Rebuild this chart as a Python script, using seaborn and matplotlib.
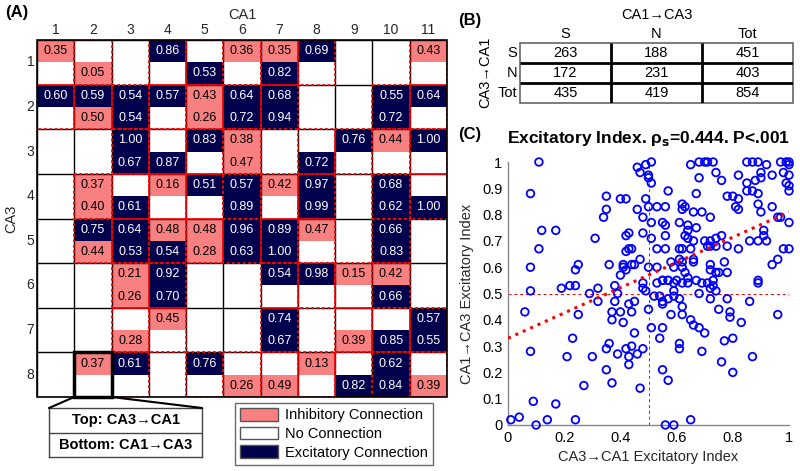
import numpy as np
import matplotlib
matplotlib.use("Agg")
import matplotlib.pyplot as plt
import seaborn as sns
from matplotlib.colors import ListedColormap
from matplotlib.patches import Rectangle, Patch, ConnectionPatch

# ---- (A) connection matrix: 8 CA3 cells (rows) x 11 CA1 cells (columns)
# value > 0 excitatory, value < 0 inhibitory, 0 = no connection
top_ca3_ca1 = [
    [-0.35, 0, 0, 0.86, 0, -0.36, -0.35, 0.69, 0, 0, -0.43],
    [0.60, 0.59, 0.54, 0.57, -0.43, 0.64, 0.68, 0, 0, 0.55, 0.64],
    [0, 0, 1.00, 0, 0.83, -0.38, 0, 0, 0.76, -0.44, 1.00],
    [0, -0.37, 0, -0.16, 0.51, 0.57, -0.42, 0.97, 0, 0.68, 0],
    [0, 0.75, 0.64, -0.48, -0.48, 0.96, 0.89, -0.47, 0, 0.66, 0],
    [0, 0, -0.21, 0.92, 0, 0, 0.54, 0.98, -0.15, -0.42, 0],
    [0, 0, 0, -0.45, 0, 0, 0.74, 0, 0, 0, 0.57],
    [0, -0.37, 0.61, 0, 0.76, 0, 0, -0.13, 0, 0.62, 0],
]
bottom_ca1_ca3 = [
    [0, -0.05, 0, 0, 0.53, 0, 0.82, 0, 0, 0, 0],
    [0, -0.50, 0.54, 0, -0.26, 0.72, 0.94, 0, 0, 0.72, 0],
    [0, 0, 0.67, 0.87, 0, -0.47, 0, 0.72, 0, 0, 0],
    [0, -0.40, 0.61, 0, 0, 0.89, 0, 0.99, 0, 0.62, 1.00],
    [0, -0.44, 0.53, 0.54, -0.28, 0.63, 1.00, 0, 0, 0.83, 0],
    [0, 0, -0.26, 0.70, 0, 0, 0, 0, 0, 0.66, 0],
    [0, 0, -0.28, 0, 0, 0, 0.67, 0, -0.39, 0.85, 0.55],
    [0, 0, 0, 0, 0, -0.26, -0.49, 0, 0.82, 0.84, -0.39],
]
ca1_labels = [str(i) for i in range(1, 12)]
ca3_labels = [str(i) for i in range(1, 9)]
legend_labels = ["Inhibitory Connection", "No Connection", "Excitatory Connection"]

# ---- (B) contingency table
table_cols = ["S", "N", "Tot"]
table_rows = ["S", "N", "Tot"]
table_counts = [[263, 188, 451],
                [172, 231, 403],
                [435, 419, 854]]

# ---- (C) excitatory index per pair
ei_ca3_ca1 = [
    0.11, 0.08, 0.12, 0.17, 0.11, 0.08, 0.35, 0.35, 0.34, 0.31, 0.40, 0.42, 0.36, 0.25, 0.24,
    0.46, 0.47, 0.49, 0.51, 0.50, 0.50, 0.51, 0.49, 0.46, 0.50, 0.53, 0.56, 0.57, 0.48, 0.51, 0.48, 0.51,
    0.42, 0.43, 0.43, 0.44, 0.42, 0.47, 0.44, 0.45, 0.41, 0.41, 0.42, 0.40, 0.50, 0.53,
    0.55, 0.56, 0.56, 0.56, 0.53, 0.58, 0.59, 0.55, 0.57,
    0.65, 0.68, 0.70, 0.71, 0.73, 0.74, 0.68, 0.76, 0.67,
    0.62, 0.62, 0.63, 0.66, 0.69, 0.72, 0.61, 0.64, 0.64, 0.67, 0.63, 0.64, 0.66, 0.62, 0.61, 0.65,
    0.70, 0.72, 0.74, 0.76, 0.71, 0.72, 0.74, 0.66, 0.66, 0.61, 0.62, 0.62, 0.63, 0.64,
    0.72, 0.72, 0.74, 0.75, 0.77, 0.78, 0.82, 0.78,
    0.78, 0.80, 0.82, 0.81, 0.82, 0.82, 0.85, 0.87, 0.89, 0.92, 0.90, 0.90, 0.88, 0.85, 0.85, 0.87,
    0.89, 0.89, 0.90, 0.94, 0.94,
    0.97, 0.99, 1.00, 1.00, 0.98, 1.00, 0.99, 1.00, 1.00, 0.97, 0.96, 1.00, 1.00, 0.98,
    0.91, 0.91, 0.92, 0.89, 0.86, 0.94, 0.96, 0.89,
    0.08, 0.06, 0.08, 0.09, 0.17, 0.01, 0.04, 0.10, 0.14, 0.24,
    0.19, 0.22, 0.24, 0.25, 0.23, 0.21, 0.27, 0.30, 0.29, 0.32, 0.32,
    0.38, 0.39, 0.38, 0.37, 0.37, 0.40, 0.41, 0.36, 0.35, 0.39, 0.42, 0.43, 0.44, 0.43, 0.46, 0.48,
    0.35, 0.37, 0.47,
    0.43, 0.45, 0.44, 0.45, 0.48, 0.48, 0.50, 0.52, 0.51, 0.54, 0.55, 0.55, 0.54, 0.55, 0.55, 0.57,
    0.57, 0.58, 0.59, 0.59, 0.59, 0.61, 0.62, 0.62, 0.61, 0.61, 0.65, 0.66, 0.68, 0.70, 0.69,
    0.68, 0.72, 0.72, 0.74, 0.75, 0.78, 0.79, 0.79, 0.77, 0.80, 0.76, 0.80, 0.83, 0.86, 0.89, 0.87,
    0.96, 0.65, 0.56, 0.59,
    0.53, 0.55, 0.57, 0.62, 0.64, 0.67, 0.69, 0.71, 0.73, 0.73, 0.49, 0.60,
]
ei_ca1_ca3 = [
    1.00, 0.88, 0.74, 0.74, 0.67, 0.60, 0.87, 0.82, 0.79, 0.71, 0.86, 0.86, 0.61, 0.61, 0.59,
    0.98, 0.96, 0.99, 1.00, 0.95, 0.94, 0.92, 0.86, 0.82, 0.83, 0.83, 0.83, 0.89, 0.79, 0.77, 0.73, 0.71,
    0.72, 0.73, 0.67, 0.67, 0.66, 0.63, 0.61, 0.61, 0.61, 0.60, 0.59, 0.57, 0.60, 0.60,
    0.77, 0.76, 0.72, 0.67, 0.67, 0.62, 0.60, 0.55, 0.55,
    0.99, 1.00, 1.00, 1.00, 1.00, 0.96, 0.94, 0.93, 0.88,
    0.82, 0.84, 0.83, 0.81, 0.81, 0.79, 0.77, 0.76, 0.74, 0.75, 0.72, 0.71, 0.70, 0.67, 0.67, 0.67,
    0.70, 0.70, 0.71, 0.72, 0.68, 0.68, 0.68, 0.63, 0.62, 0.63, 0.62, 0.60, 0.58, 0.56,
    0.61, 0.59, 0.58, 0.58, 0.62, 0.68, 0.67, 0.58,
    0.87, 0.87, 0.86, 0.83, 0.82, 0.95, 1.00, 1.00, 1.00, 0.99, 0.96, 0.94, 0.93, 0.92, 0.89, 0.89,
    0.88, 0.84, 0.81, 0.83, 0.95,
    1.00, 1.00, 1.00, 0.99, 0.96, 0.95, 0.92, 0.91, 0.89, 0.79, 0.79, 0.77, 0.67, 0.67,
    0.74, 0.72, 0.70, 0.70, 0.70, 0.61, 0.63, 0.55,
    0.51, 0.43, 0.28, 0.09, 0.08, 0.02, 0.03, 0.00, 0.02, 0.02,
    0.52, 0.53, 0.53, 0.42, 0.33, 0.26, 0.15, 0.26, 0.50, 0.52, 0.47,
    0.53, 0.50, 0.47, 0.43, 0.40, 0.43, 0.39, 0.31, 0.29, 0.27, 0.29, 0.26, 0.30, 0.23, 0.27, 0.29,
    0.21, 0.16, 0.14,
    0.46, 0.47, 0.43, 0.35, 0.52, 0.54, 0.44, 0.49, 0.37, 0.49, 0.47, 0.46, 0.33, 0.37, 0.21, 0.17,
    0.48, 0.42, 0.51, 0.49, 0.54, 0.48, 0.45, 0.42, 0.31, 0.29, 0.40, 0.38, 0.37, 0.35, 0.28,
    0.50, 0.48, 0.52, 0.51, 0.44, 0.48, 0.43, 0.41, 0.32, 0.33, 0.24, 0.20, 0.39, 0.47, 0.54, 0.26,
    0.42, 0.02, 0.00, 0.00,
    0.54, 0.55, 0.55, 0.54, 0.54, 0.55, 0.54, 0.54, 0.55, 0.53, 0.51, 0.55,
]
fit_intercept, fit_slope = 0.33, 0.48
title_c = "Excitatory Index. \u03c1$_{\\mathbf{s}}$=0.444. P<.001"

salmon = "#f98080"
navy = "#00004d"

sns.set_theme(style="white")
plt.rcParams["font.family"] = ["Liberation Sans", "DejaVu Sans"]
plt.rcParams["text.color"] = "black"

fig = plt.figure(figsize=(8, 4.71), dpi=100)
W, H = 800, 471


def fbox(x0, y0, x1, y1):
    return [x0 / W, 1 - y1 / H, (x1 - x0) / W, (y1 - y0) / H]


# ------------------------------------------------------------------ (A)
axA = fig.add_axes(fbox(37, 40, 447, 397))
vals = np.zeros((16, 11))
vals[0::2] = top_ca3_ca1
vals[1::2] = bottom_ca1_ca3
codes = np.sign(vals)
labels = np.where(vals != 0, np.char.mod("%.2f", np.abs(vals)), "")

sns.heatmap(codes, ax=axA, cmap=ListedColormap([salmon, "white", navy]),
            vmin=-1.5, vmax=1.5, cbar=False, annot=labels, fmt="",
            annot_kws={"fontsize": 9})
for t, c in zip(axA.texts, codes.flat):
    t.set_color("white" if c > 0 else "black")

axA.hlines(np.arange(0, 17, 2), 0, 11, color="black", lw=1)
axA.vlines(np.arange(0, 12), 0, 16, color="black", lw=1)
for r in range(8):
    for c in range(11):
        if top_ca3_ca1[r][c] or bottom_ca1_ca3[r][c]:
            axA.add_patch(Rectangle((c, 2 * r), 1, 2, fill=False, ec="red",
                                    lw=1.3, ls=(0, (1.5, 1.5)), zorder=3))
axA.add_patch(Rectangle((1, 14), 1, 2, fill=False, ec="black", lw=2.5,
                        zorder=4, clip_on=False))
axA.add_patch(Rectangle((0, 0), 11, 16, fill=False, ec="black", lw=1.2,
                        zorder=4, clip_on=False))

axA.xaxis.tick_top()
axA.xaxis.set_label_position("top")
axA.set_xticks(np.arange(11) + 0.5, ca1_labels, rotation=0)
axA.set_yticks(np.arange(8) * 2 + 1, ca3_labels, rotation=0)
axA.tick_params(length=0, labelsize=10, pad=2)
axA.set_xlabel("CA1", fontsize=10.5, labelpad=3)
axA.set_ylabel("CA3", fontsize=10.5, labelpad=6)

# explanation box under the heatmap
axBox = fig.add_axes(fbox(49, 408, 202, 457))
axBox.set_xticks([])
axBox.set_yticks([])
for s in axBox.spines.values():
    s.set_color("#444444")
    s.set_linewidth(1)
axBox.axhline(0.5, color="#444444", lw=1)
axBox.text(0.5, 0.75, "Top: CA3\u2192CA1", ha="center", va="center",
           fontsize=10.5, fontweight="bold", transform=axBox.transAxes)
axBox.text(0.5, 0.25, "Bottom: CA1\u2192CA3", ha="center", va="center",
           fontsize=10.5, fontweight="bold", transform=axBox.transAxes)
for xa, xb in [(1, 0), (2, 1)]:
    con = ConnectionPatch(xyA=(xa, 16), coordsA=axA.transData,
                          xyB=(xb, 1), coordsB=axBox.transAxes,
                          color="black", lw=1.5)
    fig.add_artist(con)

handles = [Patch(fc=col, ec="#555555", label=lab)
           for col, lab in zip([salmon, "white", navy], legend_labels)]
leg = fig.legend(handles=handles, loc="upper left",
                 bbox_to_anchor=(235 / W, 1 - 403 / H), fontsize=10.5,
                 frameon=True, fancybox=False, edgecolor="#444444",
                 handlelength=2.6, handleheight=0.95, labelspacing=0.3,
                 borderpad=0.35, handletextpad=0.45, borderaxespad=0)
leg.get_frame().set_linewidth(1)

# ------------------------------------------------------------------ (B)
axB = fig.add_axes(fbox(520, 43, 793, 103))
axB.set_xlim(0, 3)
axB.set_ylim(3, 0)
axB.axis("off")
axB.hlines([1, 2], 0, 3, color="black", lw=2)
axB.vlines([1, 2], 0, 3, color="black", lw=2)
axB.add_patch(Rectangle((0, 0), 3, 3, fill=False, ec="#666666", lw=1.2,
                        clip_on=False))
for i, row in enumerate(table_counts):
    for j, v in enumerate(row):
        axB.text(j + 0.5, i + 0.52, str(v), ha="center", va="center", fontsize=10.5)
for j, lab in enumerate(table_cols):
    axB.text(j + 0.5, -0.08, lab, ha="center", va="bottom", fontsize=10.5)
for i, lab in enumerate(table_rows):
    axB.text(-0.03, i + 0.52, lab, ha="right", va="center", fontsize=10.5)
axB.text(1.5, -1.4, "CA1\u2192CA3", ha="center", va="center", fontsize=10.5)
axB.text(-0.38, 1.45, "CA3\u2192CA1", ha="center", va="center",
         rotation=90, fontsize=10.5)

# ------------------------------------------------------------------ (C)
axC = fig.add_axes(fbox(508, 162, 789, 425))
axC.axvline(0.5, color="red", lw=0.7, ls=(0, (3, 3)), zorder=1)
axC.axhline(0.5, color="red", lw=0.7, ls=(0, (3, 3)), zorder=1)
sns.scatterplot(x=ei_ca3_ca1, y=ei_ca1_ca3, ax=axC, color="blue",
                facecolor="none", edgecolor="blue", linewidth=1.3, s=30,
                clip_on=False, zorder=3)
fit_x = np.array([0.0, 1.0])
sns.lineplot(x=fit_x, y=fit_intercept + fit_slope * fit_x, ax=axC,
             color="red", lw=2.2, ls=":", zorder=4)
axC.set_xlim(0, 1)
axC.set_ylim(0, 1)
xt = np.round(np.arange(0, 1.01, 0.2), 1)
yt = np.round(np.arange(0, 1.01, 0.1), 1)
axC.set_xticks(xt, ["0" if v == 0 else "1" if v == 1 else f"{v:g}" for v in xt])
axC.set_yticks(yt, ["0" if v == 0 else "1" if v == 1 else f"{v:g}" for v in yt])
axC.tick_params(direction="in", length=4, color="#888888", labelsize=10.5,
                labelcolor="black", pad=4)
for side in ["top", "right"]:
    axC.spines[side].set_visible(False)
for side in ["left", "bottom"]:
    axC.spines[side].set_color("#888888")
    axC.spines[side].set_linewidth(1)
axC.set_xlabel("CA3\u2192CA1 Excitatory Index", fontsize=10.5, labelpad=4)
axC.set_ylabel("CA1\u2192CA3 Excitatory Index", fontsize=10.5, labelpad=6)
axC.set_title(title_c, fontsize=12.5, fontweight="bold", pad=14)

# panel letters
fig.text(5 / W, 1 - 12 / H, "(A)", fontsize=12, fontweight="bold", va="center")
fig.text(458 / W, 1 - 21 / H, "(B)", fontsize=12, fontweight="bold", va="center")
fig.text(458 / W, 1 - 135 / H, "(C)", fontsize=12, fontweight="bold", va="center")

fig.savefig("out.png", dpi=100)
